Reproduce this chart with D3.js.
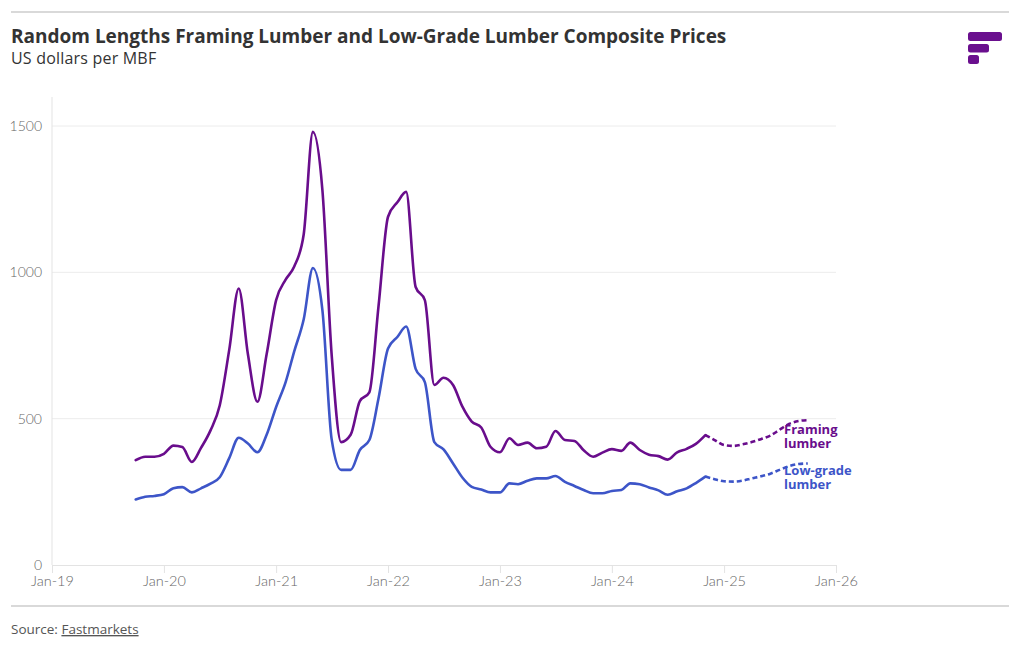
<!DOCTYPE html>
<html>
<head>
<meta charset="utf-8">
<script src="https://cdn.jsdelivr.net/npm/d3@7"></script>
<style>
  body { margin: 0; background: #fff; }
  svg { display: block; font-family: "Open Sans", Lato, sans-serif; }
</style>
</head>
<body>
<svg id="chart" width="1020" height="650"></svg>
<script>
// ---- Data ----
const actualStart = "2019-10";   // first month of observed series
const forecastStart = "2024-11"; // first month of forecast series (joins actual)

const framingActual = [
  358, 370, 370, 380, 408, 403, 352, 400, 460, 545, 735, 945,
  720, 558, 720, 905, 975, 1020, 1130, 1480, 1280, 720, 420, 445,
  560, 590, 885, 1190, 1240, 1275, 950, 905, 615, 640, 615, 540,
  490, 470, 404, 385, 433, 410, 418, 399, 404, 458, 427, 424,
  392, 370, 384, 396, 390, 418, 393, 377, 372, 360, 385, 397,
  414, 444
];
const lowGradeActual = [
  224, 233, 236, 242, 262, 266, 248, 262, 278, 300, 365, 435,
  415, 385, 445, 540, 625, 730, 840, 1015, 870, 430, 325, 325,
  393, 427, 570, 740, 780, 815, 670, 625, 420, 395, 347, 298,
  267, 258, 248, 248, 279, 276, 288, 296, 296, 304, 284, 270,
  256, 245, 245, 253, 256, 279, 276, 265, 255, 240, 252, 262,
  280, 302
];
const framingForecast  = [444, 427, 410, 407, 412, 420, 430, 442, 462, 482, 492, 495];
const lowGradeForecast = [302, 293, 286, 285, 288, 296, 303, 312, 325, 338, 345, 347];

const yTicks = [0, 500, 1000, 1500];
const xTickYears = ["2019", "2020", "2021", "2022", "2023", "2024", "2025", "2026"];
const framingLabel = ["Framing", "lumber"];
const lowGradeLabel = ["Low-grade", "lumber"];

// ---- Layout ----
const W = 1020, H = 650;
const margin = { left: 52, right: 184, top: 97, bottom: 85 };
const colors = { framing: "#690d8c", lowGrade: "#3d55c8" };

const svg = d3.select("#chart");
const parseMonth = d3.timeParse("%Y-%m");
const monthsFrom = (start, n) => d3.range(n).map(i => d3.timeMonth.offset(parseMonth(start), i));

const toSeries = (start, vals) => {
  const dates = monthsFrom(start, vals.length);
  return vals.map((v, i) => ({ date: dates[i], value: v }));
};
const fA = toSeries(actualStart, framingActual);
const lA = toSeries(actualStart, lowGradeActual);
const fF = toSeries(forecastStart, framingForecast);
const lF = toSeries(forecastStart, lowGradeForecast);

const x = d3.scaleTime()
  .domain([new Date(2019, 0, 1), new Date(2026, 0, 1)])
  .range([margin.left, W - margin.right]);
const y = d3.scaleLinear()
  .domain([0, 1500])
  .range([H - margin.bottom, 126]);

// top rule
svg.append("line").attr("x1", 11).attr("x2", 1009).attr("y1", 12).attr("y2", 12)
  .attr("stroke", "#d9d9d9").attr("stroke-width", 2);
// bottom rule
svg.append("line").attr("x1", 11).attr("x2", 1009).attr("y1", 606).attr("y2", 606)
  .attr("stroke", "#d9d9d9").attr("stroke-width", 2);

// title
svg.append("text").attr("x", 11).attr("y", 43)
  .attr("font-size", 19).attr("font-weight", 700).attr("fill", "#333")
  .text("Random Lengths Framing Lumber and Low-Grade Lumber Composite Prices");
svg.append("text").attr("x", 11).attr("y", 64)
  .attr("font-size", 16).attr("fill", "#333").attr("letter-spacing", 0.2)
  .text("US dollars per MBF");

// logo
const logo = svg.append("g").attr("fill", "#6a0f8e");
logo.append("rect").attr("x", 968).attr("y", 32).attr("width", 34).attr("height", 9).attr("rx", 2.5);
logo.append("rect").attr("x", 968).attr("y", 44).attr("width", 21).attr("height", 8.5).attr("rx", 2.5);
logo.append("rect").attr("x", 968).attr("y", 55).attr("width", 11).attr("height", 9).attr("rx", 2.5);

// gridlines
svg.append("g").selectAll("line").data(yTicks.filter(d => d > 0)).join("line")
  .attr("x1", margin.left).attr("x2", W - margin.right)
  .attr("y1", d => y(d)).attr("y2", d => y(d))
  .attr("stroke", "#ececec").attr("stroke-width", 1);

// y axis line
svg.append("line").attr("x1", margin.left).attr("x2", margin.left)
  .attr("y1", margin.top).attr("y2", y(0))
  .attr("stroke", "#e3e3e3").attr("stroke-width", 1);

// y tick labels
svg.append("g").selectAll("text").data(yTicks).join("text")
  .attr("x", 42).attr("y", d => y(d) + 5)
  .attr("text-anchor", "end").attr("font-size", 14).attr("font-weight", 300)
  .attr("font-family", "Lato, sans-serif")
  .attr("fill", "#666").text(d => d);

// x axis
const xTicks = xTickYears.map(s => new Date(+s, 0, 1));
const xAxis = d3.axisBottom(x).tickValues(xTicks).tickFormat(d3.timeFormat("%b-%y"))
  .tickSize(8).tickPadding(3);
const gx = svg.append("g").attr("transform", `translate(0,${y(0)})`).call(xAxis);
gx.select(".domain").attr("stroke", "#e3e3e3");
gx.selectAll(".tick line").attr("stroke", "#e3e3e3");
gx.selectAll(".tick text").attr("font-size", 14.5).attr("font-weight", 300)
  .attr("fill", "#666").attr("font-family", "Lato, sans-serif");

// lines
const line = d3.line().x(d => x(d.date)).y(d => y(d.value)).curve(d3.curveMonotoneX);

const drawLine = (data, color, dashed) => {
  svg.append("path").datum(data)
    .attr("fill", "none").attr("stroke", color).attr("stroke-width", 2.6)
    .attr("stroke-linejoin", "round").attr("stroke-linecap", dashed ? "butt" : "round")
    .attr("stroke-dasharray", dashed ? "5,3" : null)
    .attr("d", line);
};
drawLine(lA, colors.lowGrade, false);
drawLine(lF, colors.lowGrade, true);
drawLine(fA, colors.framing, false);
drawLine(fF, colors.framing, true);

// series labels (two-line, single text element each)
const addLabel = (lines, yBase, color) => {
  const t = svg.append("text").attr("x", 784).attr("y", yBase)
    .attr("font-size", 13).attr("font-weight", 700).attr("fill", color);
  lines.forEach((s, i) => {
    t.append("tspan").attr("x", 784).attr("dy", i === 0 ? 0 : 14).text(s);
  });
};
addLabel(framingLabel, 433.5, colors.framing);
addLabel(lowGradeLabel, 474.5, colors.lowGrade);

// source
const src = svg.append("text").attr("x", 11).attr("y", 634).attr("font-size", 13.5).attr("fill", "#555");
src.append("tspan").text("Source: ");
src.append("tspan").attr("text-decoration", "underline").text("Fastmarkets");
</script>
</body>
</html>
